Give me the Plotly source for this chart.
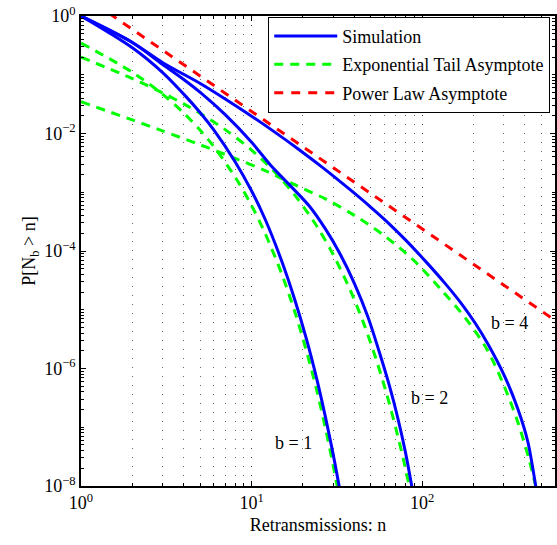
import math
import plotly.graph_objects as go

# ---------------- data ----------------
n_sim_b1 = [1, 2, 3, 4, 5, 6, 8, 10, 12, 15, 18, 21, 24, 27, 30, 33]
p_sim_b1 = [1.0, 0.288, 0.110, 0.0468, 0.0226, 0.0115, 0.00331, 0.00105, 3.47e-4,
            6.76e-5, 1.41e-5, 3.09e-6, 6.92e-7, 1.55e-7, 3.55e-8, 8.1e-9]

n_sim_b2 = [1, 2, 3, 4, 5, 7, 10, 13, 17, 22, 27, 33, 40, 48, 56, 64, 72, 80, 88]
p_sim_b2 = [1.0, 0.355, 0.151, 0.0832, 0.0501, 0.0209, 0.00708, 0.00282, 0.00126,
            5.62e-4, 2.40e-4, 8.91e-5, 2.82e-5, 7.59e-6, 1.91e-6, 5.25e-7,
            1.41e-7, 3.55e-8, 7.9e-9]

n_sim_b4 = [1, 2, 3, 5, 7, 10, 14, 19, 26, 37, 50, 62, 80, 104, 136, 170, 205,
            243, 305, 363, 415, 456, 470]
p_sim_b4 = [1.0, 0.355, 0.162, 0.0710, 0.0387, 0.0197, 0.01005, 0.00530, 0.00265,
            0.00116, 5.55e-4, 3.17e-4, 1.53e-4, 6.79e-5, 2.81e-5, 1.26e-5,
            5.83e-6, 2.58e-6, 7.21e-7, 2.06e-7, 5.78e-8, 1.28e-8, 7.2e-9]

n_exp_b1 = [1, 2, 3, 4, 5, 6, 8, 10, 12, 15, 18, 21, 24, 27, 30, 33]
p_exp_b1 = [0.347, 0.110, 0.0468, 0.0223, 0.01135, 0.00601, 0.00182, 5.9e-4,
            1.99e-4, 4.1e-5, 8.8e-6, 1.94e-6, 4.4e-7, 1.0e-7, 2.3e-8, 5.4e-9]

n_exp_b2 = [1, 2, 3, 4, 5, 7, 10, 14, 18, 24, 30, 38, 46, 54, 62, 70, 78, 86]
p_exp_b2 = [0.2, 0.0859, 0.0493, 0.0319, 0.0220, 0.01164, 0.00521, 0.00205,
            8.77e-4, 2.69e-4, 8.79e-5, 2.10e-5, 5.26e-6, 1.36e-6, 3.59e-7,
            9.6e-8, 2.62e-8, 7.2e-9]

n_exp_b4 = [1, 2, 3, 5, 8, 12, 18, 27, 40, 60, 90, 130, 180, 240, 300, 360, 420, 480]
p_exp_b4 = [0.0347, 0.0170, 0.0111, 0.00641, 0.00378, 0.00233, 0.00133, 7.73e-4,
            4.04e-4, 1.82e-4, 6.75e-5, 2.14e-5, 7.08e-6, 2.09e-6, 5.25e-7,
            1.32e-7, 3.02e-8, 6.3e-9]

n_pow = [1, 600]
p_pow = [2.37, 6.6e-6]

curve_labels = ["b = 1", "b = 2", "b = 4"]
label_n = [17.7, 111, 326]
label_p = [5.4e-8, 3.2e-7, 5.9e-6]

x_tickvals = [1, 10, 100]
x_ticktext = ["10<sup>0</sup>", "10<sup>1</sup>", "10<sup>2</sup>"]
y_tickvals = [1, 1e-2, 1e-4, 1e-6, 1e-8]
y_ticktext = ["10<sup>0</sup>", "10<sup>\u22122</sup>", "10<sup>\u22124</sup>",
              "10<sup>\u22126</sup>", "10<sup>\u22128</sup>"]

x_title = "Retransmissions: n"
y_title = "P[N<sub>b</sub> &gt; n]"
legend_names = ["Simulation", "Exponential Tail Asymptote", "Power Law Asymptote"]

# ---------------- figure ----------------
FONT = "Liberation Serif"
BLUE, GREEN, RED = "#0000ff", "#00ff00", "#ff0000"
LW = 3

fig = go.Figure()

for i, (nx, py) in enumerate([(n_exp_b1, p_exp_b1), (n_exp_b2, p_exp_b2), (n_exp_b4, p_exp_b4)]):
    fig.add_trace(go.Scatter(x=nx, y=py, mode="lines", name=legend_names[1],
                             legendgroup="g2", showlegend=(i == 0), legendrank=2,
                             line=dict(color=GREEN, width=LW, dash="9px,7px",
                                       shape="spline", smoothing=0.9)))

fig.add_trace(go.Scatter(x=n_pow, y=p_pow, mode="lines", name=legend_names[2],
                         legendgroup="g3", legendrank=3,
                         line=dict(color=RED, width=LW, dash="9px,8px")))

for i, (nx, py) in enumerate([(n_sim_b1, p_sim_b1), (n_sim_b2, p_sim_b2), (n_sim_b4, p_sim_b4)]):
    fig.add_trace(go.Scatter(x=nx, y=py, mode="lines", name=legend_names[0],
                             legendgroup="g1", showlegend=(i == 0), legendrank=1,
                             line=dict(color=BLUE, width=LW, shape="spline", smoothing=0.9)))

for lab, xn, yp in zip(curve_labels, label_n, label_p):
    fig.add_annotation(x=math.log10(xn), y=math.log10(yp), text=lab, showarrow=False,
                       font=dict(family=FONT, size=18, color="black"))

minor_x = [k * 10 ** d for d in range(0, 3) for k in range(2, 10) if k * 10 ** d <= 600]
minor_y = [k * 10.0 ** d for d in range(-8, 0) for k in range(1, 10)
           if not (k == 1 and d % 2 == 0)]

fig.update_xaxes(type="log", range=[0, 2.778], tickvals=x_tickvals, ticktext=x_ticktext,
                 ticks="inside", ticklen=5, tickwidth=1, tickcolor="black",
                 showline=True, linecolor="black", linewidth=1.5, mirror="allticks",
                 showgrid=True, gridcolor="#444", gridwidth=1, griddash="1px,8px",
                 minor=dict(tickvals=minor_x, ticks="inside", ticklen=3, tickcolor="black",
                            showgrid=True, gridcolor="#666", gridwidth=1, griddash="1px,8px"),
                 zeroline=False,
                 tickfont=dict(family=FONT, size=18, color="black"),
                 title=dict(text=x_title, font=dict(family=FONT, size=18, color="black"),
                            standoff=6))
fig.update_yaxes(type="log", range=[-8, 0], tickvals=y_tickvals, ticktext=y_ticktext,
                 ticks="inside", ticklen=5, tickwidth=1, tickcolor="black",
                 showline=True, linecolor="black", linewidth=1.5, mirror="allticks",
                 showgrid=False, zeroline=False,
                 minor=dict(tickvals=minor_y, ticks="inside", ticklen=3, tickcolor="black",
                            showgrid=False),
                 tickfont=dict(family=FONT, size=18, color="black"),
                 title=dict(text=y_title, font=dict(family=FONT, size=18, color="black"),
                            standoff=4))

fig.update_layout(
    width=557, height=545,
    margin=dict(l=81, r=0, t=16, b=59),
    paper_bgcolor="white", plot_bgcolor="white",
    font=dict(family=FONT, size=18, color="black"),
    legend=dict(x=0.395, y=0.9985, xanchor="left", yanchor="top",
                bgcolor="white", bordercolor="black", borderwidth=1,
                tracegroupgap=2, traceorder="grouped", itemwidth=63,
                font=dict(family=FONT, size=18, color="black")),
    showlegend=True,
)

fig.write_html("out.html")
